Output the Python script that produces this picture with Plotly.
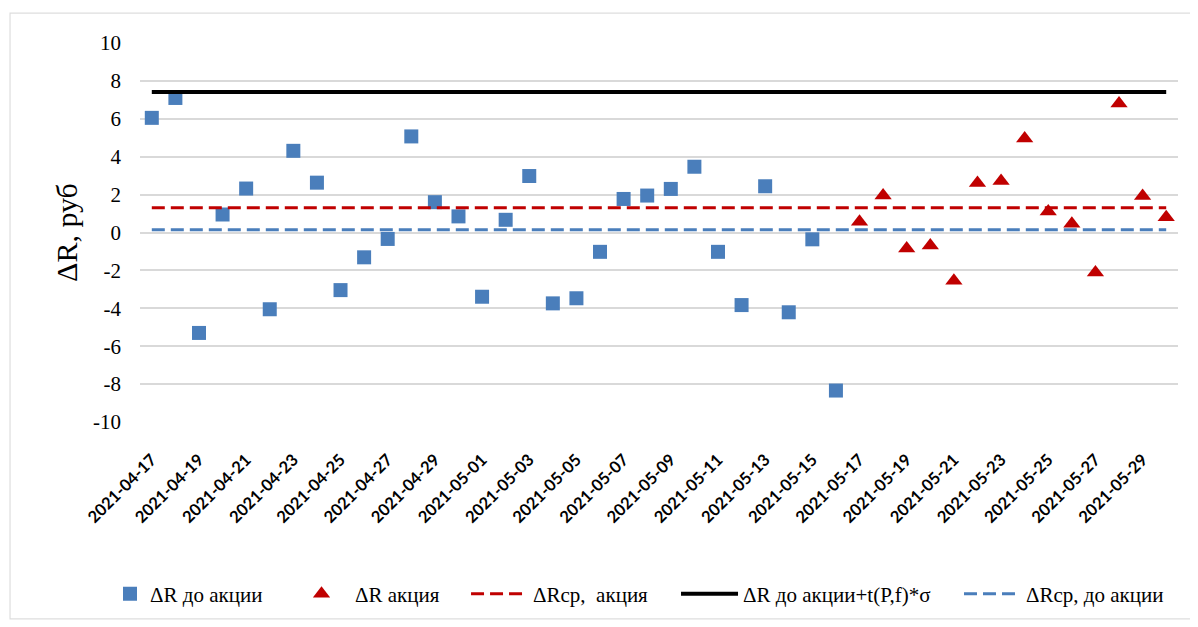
import plotly.graph_objects as go
import pandas as pd

# Dates
dates_before = pd.date_range("2021-04-17", "2021-05-16", freq="D")
dates_action = pd.date_range("2021-05-17", "2021-05-30", freq="D")

# ΔR до акции (blue squares)
dr_before = [6.05, 7.1, -5.3, 0.95, 2.32, -4.05, 4.31, 2.63, -3.04, -1.31,
             -0.34, 5.07, 1.6, 0.85, -3.39, 0.67, 2.98, -3.74, -3.47, -1.02,
             1.77, 1.95, 2.3, 3.47, -1.02, -3.83, 2.44, -4.21, -0.36, -8.34]
# ΔR акция (red triangles)
dr_action = [0.57, 1.95, -0.85, -0.68, -2.55, 2.61, 2.72, 4.96, 1.11, 0.46,
             -2.11, 6.81, 1.92, 0.81]

mean_action = 1.3        # ΔRср, акция
upper_limit = 7.41       # ΔR до акции + t(P,f)*σ
mean_before = 0.15       # ΔRср, до акции

y_ticks = [10, 8, 6, 4, 2, 0, -2, -4, -6, -8, -10]
y_tick_text = [str(v) for v in y_ticks]

all_dates = list(dates_before) + list(dates_action)
line_x = [all_dates[0], all_dates[-1]]

tick_vals = all_dates[::2]
tick_text = [d.strftime("%Y-%m-%d") for d in tick_vals]

BLUE = "#4a7ebb"
RED = "#c00000"
SERIF = "Liberation Serif, Times New Roman, serif"

fig = go.Figure()
fig.add_trace(go.Scatter(x=list(dates_before), y=dr_before, mode="markers",
                         name="ΔR до акции", legend="legend",
                         marker=dict(symbol="square", size=14, color=BLUE)))
fig.add_trace(go.Scatter(x=list(dates_action), y=dr_action, mode="markers",
                         name="ΔR акция", legend="legend2",
                         marker=dict(symbol="triangle-up", size=15, color=RED)))
fig.add_trace(go.Scatter(x=line_x, y=[mean_action] * 2, mode="lines",
                         name="ΔRср,  акция", legend="legend3",
                         line=dict(color=RED, width=3, dash="13px,6px")))
fig.add_trace(go.Scatter(x=line_x, y=[upper_limit] * 2, mode="lines",
                         name="ΔR до акции+t(P,f)*σ", legend="legend4",
                         line=dict(color="black", width=4)))
fig.add_trace(go.Scatter(x=line_x, y=[mean_before] * 2, mode="lines",
                         name="ΔRср, до акции", legend="legend5",
                         line=dict(color=BLUE, width=3, dash="13px,6px")))

x0 = all_dates[0] - pd.Timedelta(hours=12)
x1 = all_dates[-1] + pd.Timedelta(hours=12)


def leg(x, itemwidth):
    return dict(orientation="h", x=x, xanchor="left", y=-0.454, yanchor="middle",
                font=dict(family=SERIF, size=21, color="black"),
                bgcolor="rgba(0,0,0,0)", itemwidth=itemwidth)


fig.update_layout(
    width=1190, height=619,
    margin=dict(l=132, r=20, t=35, b=203),
    paper_bgcolor="white", plot_bgcolor="white",
    font=dict(family=SERIF, color="black"),
    showlegend=True,
    legend=leg(-0.0289, 30),
    legend2=leg(0.1426, 57),
    legend3=leg(0.3141, 57),
    legend4=leg(0.5164, 57),
    legend5=leg(0.7890, 57),
    xaxis=dict(range=[x0, x1], tickmode="array", tickvals=tick_vals, ticktext=tick_text,
               tickangle=-45, showgrid=False, zeroline=False, showline=False,
               ticklabelstandoff=24,
               tickfont=dict(family="Lato", size=16.5, color="black", weight=700)),
    yaxis=dict(range=[-10, 10], tickmode="array", tickvals=y_ticks, ticktext=y_tick_text,
               showgrid=True, gridcolor="#d9d9d9", gridwidth=1.5,
               zeroline=False, showline=False, ticklabelstandoff=18,
               tickfont=dict(family=SERIF, size=21, color="black"),
               title=dict(text="ΔR, руб", font=dict(family=SERIF, size=30, color="black"),
                          standoff=6)),
    shapes=[dict(type="rect", xref="paper", yref="paper",
                 x0=-0.1252, x1=1.0135, y0=-0.5197, y1=1.0787,
                 line=dict(color="#dedede", width=1.2), fillcolor="rgba(0,0,0,0)")],
)

fig.write_html("out.html")
